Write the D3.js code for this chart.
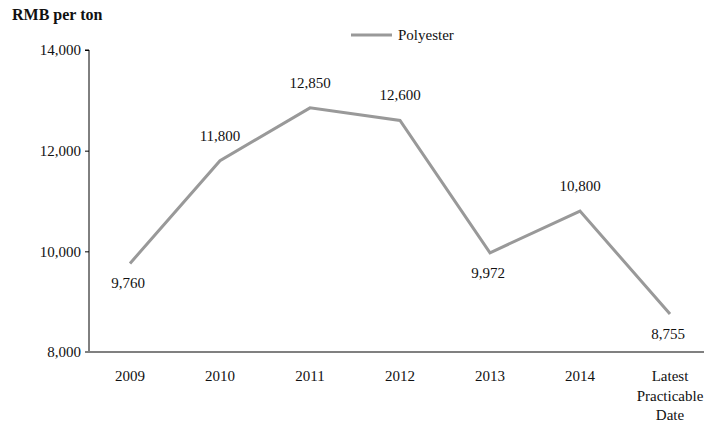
<!DOCTYPE html>
<html>
<head>
<meta charset="utf-8">
<script src="https://cdn.jsdelivr.net/npm/d3@7"></script>
</head>
<body style="margin:0;background:#fff">
<svg id="chart" width="704" height="424" font-family="Liberation Serif"></svg>
<script>
// Polyester price by period, RMB per ton
const categories = ["2009", "2010", "2011", "2012", "2013", "2014", "Latest Practicable Date"];
const categoryLines = [["2009"], ["2010"], ["2011"], ["2012"], ["2013"], ["2014"], ["Latest", "Practicable", "Date"]];
const polyester = [9760, 11800, 12850, 12600, 9972, 10800, 8755];
const labelSide = ["below", "above", "above", "above", "below", "above", "below"];
const yTicks = [8000, 10000, 12000, 14000];

const FONT = "Liberation Serif";
const FS = 15;
const svg = d3.select("#chart");

const x = d3.scalePoint().domain(categories).range([130, 670]);
const y = d3.scaleLinear().domain([8000, 14000]).range([352, 50]);
const axisX = 89;

// title
svg.append("text")
  .attr("x", 12).attr("y", 20)
  .attr("font-family", FONT)
  .attr("font-size", 16).attr("font-weight", "bold").attr("fill", "#111")
  .text("RMB per ton");

// y axis
const yAxis = svg.append("g")
  .attr("transform", `translate(${axisX},0)`)
  .call(d3.axisLeft(y).tickValues(yTicks).tickSize(4).tickPadding(4).tickFormat(d3.format(",")));
yAxis.attr("font-family", FONT).attr("font-size", FS);
yAxis.select(".domain").attr("stroke", "#000").attr("d", `M-4,${y(14000)}H0V${y(8000)}`);
yAxis.selectAll(".tick line").attr("stroke", "#000");
yAxis.selectAll(".tick text").attr("font-family", FONT).attr("font-size", FS).attr("fill", "#111");

// x axis baseline
svg.append("line")
  .attr("x1", axisX - 4).attr("x2", 704)
  .attr("y1", y(8000)).attr("y2", y(8000))
  .attr("stroke", "#808080").attr("stroke-width", 2);

// x category labels
const xl = svg.append("g");
categories.forEach((c, i) => {
  const t = xl.append("text")
    .attr("x", x(c)).attr("y", 381)
    .attr("font-family", FONT)
    .attr("text-anchor", "middle").attr("font-size", FS).attr("fill", "#111");
  categoryLines[i].forEach((ln, j) => {
    t.append("tspan").attr("x", x(c)).attr("dy", j === 0 ? 0 : 19.5).text(ln);
  });
});

// line
const line = d3.line().x((d, i) => x(categories[i])).y(d => y(d));
svg.append("path")
  .datum(polyester)
  .attr("d", line)
  .attr("fill", "none")
  .attr("stroke", "#999999")
  .attr("stroke-width", 3);

// value labels
svg.append("g").selectAll("text")
  .data(polyester)
  .join("text")
  .attr("x", (d, i) => x(categories[i]) - (labelSide[i] === "below" ? 2 : 0))
  .attr("y", (d, i) => labelSide[i] === "below" ? y(d) + 25 : y(d) - 20)
  .attr("font-family", FONT)
  .attr("text-anchor", "middle").attr("font-size", FS).attr("fill", "#111")
  .text(d3.format(","));

// legend
svg.append("line")
  .attr("x1", 351).attr("x2", 392).attr("y1", 35).attr("y2", 35)
  .attr("stroke", "#999999").attr("stroke-width", 3);
svg.append("text")
  .attr("x", 398).attr("y", 40)
  .attr("font-family", FONT)
  .attr("font-size", FS).attr("fill", "#111")
  .text("Polyester");
</script>
</body>
</html>
